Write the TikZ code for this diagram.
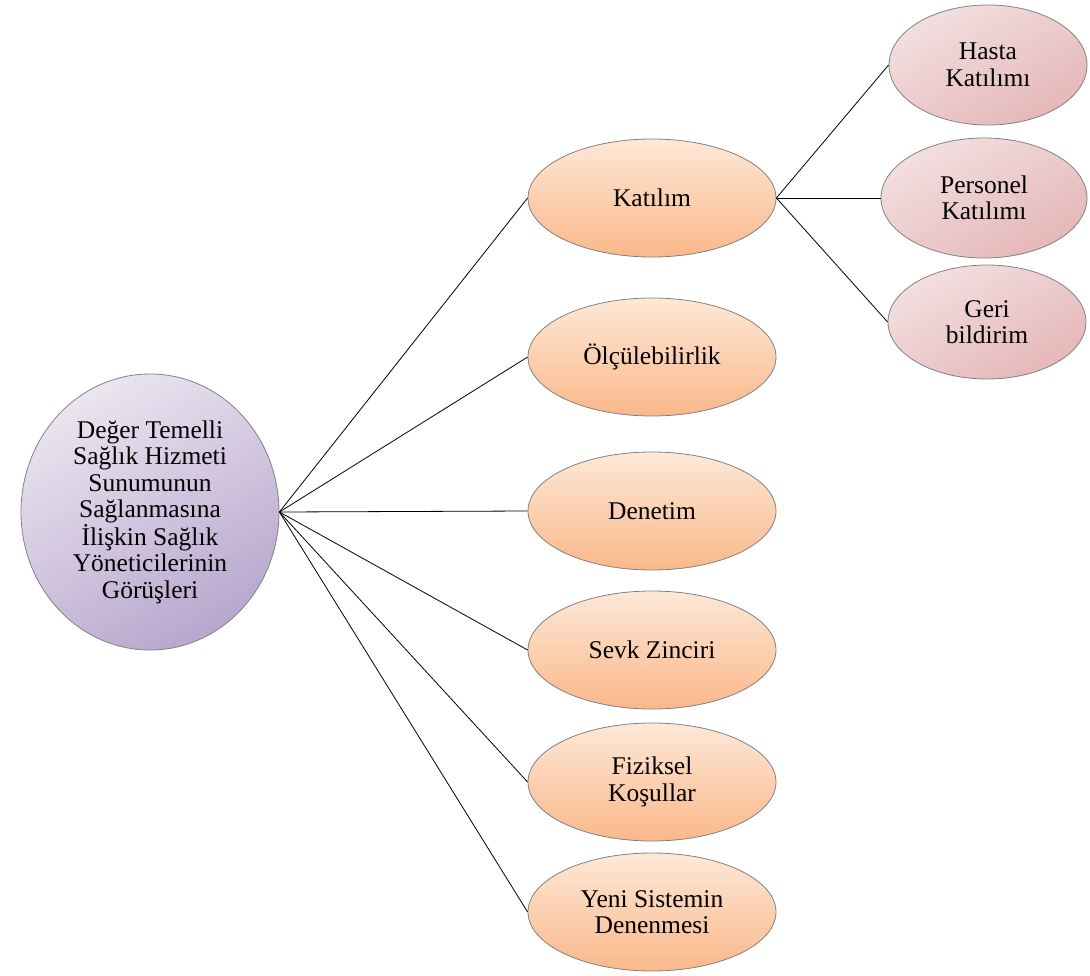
\documentclass[tikz,border=0pt]{standalone}
\usepackage{fontspec}
\setmainfont{Liberation Serif}
\usepackage{tikz}
\usetikzlibrary{shapes.geometric}
\definecolor{rootlight}{RGB}{234,229,240}
\definecolor{rootdark}{RGB}{184,167,206}
\definecolor{orlight}{RGB}{253,232,215}
\definecolor{ordark}{RGB}{250,184,138}
\definecolor{pklight}{RGB}{243,223,224}
\definecolor{pkdark}{RGB}{229,183,184}
\definecolor{rim}{RGB}{130,130,130}

\begin{document}
\begin{tikzpicture}[x=1pt, y=-1pt,
  every node/.style={font=\fontsize{25.5}{26.5}\selectfont, align=center, inner sep=0pt},
  theme/.style={ellipse, draw=rim, line width=0.8pt, minimum width=248pt, minimum height=118pt, top color=orlight, bottom color=ordark},
  subtheme/.style={ellipse, draw=rim, line width=0.8pt, minimum width=198pt, minimum height=120pt, top color=pklight, bottom color=pkdark, shading angle=30},
  rootbox/.style={ellipse, draw=rim, line width=0.8pt, minimum width=258pt, minimum height=276pt, top color=rootlight, bottom color=rootdark, shading angle=30},
  link/.style={draw=black, line width=0.8pt}]
\useasboundingbox (0,0) rectangle (1090,975);
\node[rootbox] (root) at (150,512) {Değer Temelli\\Sağlık Hizmeti\\Sunumunun\\Sağlanmasına\\İlişkin Sağlık\\Yöneticilerinin\\Görüşleri};
\node[theme] (katilim) at (652,198) {Katılım};
\node[theme] (olcu) at (652,357) {Ölçülebilirlik};
\node[theme] (denetim) at (652,511) {Denetim};
\node[theme] (sevk) at (652,650) {Sevk Zinciri};
\node[theme] (fizik) at (652,782) {Fiziksel\\Koşullar};
\node[theme] (yeni) at (652,912) {Yeni Sistemin\\Denenmesi};
\node[subtheme] (hasta) at (988,65) {Hasta\\Katılımı};
\node[subtheme, minimum width=206pt] (personel) at (984,198) {Personel\\Katılımı};
\node[subtheme, minimum height=114pt] (geri) at (987,322) {Geri\\bildirim};
\foreach \t in {katilim, olcu, denetim, sevk, fizik, yeni}
  \draw[link] (root.east) -- (\t.west);
\foreach \s in {hasta, personel, geri}
  \draw[link] (katilim.east) -- (\s.west);
\end{tikzpicture}
\end{document}
